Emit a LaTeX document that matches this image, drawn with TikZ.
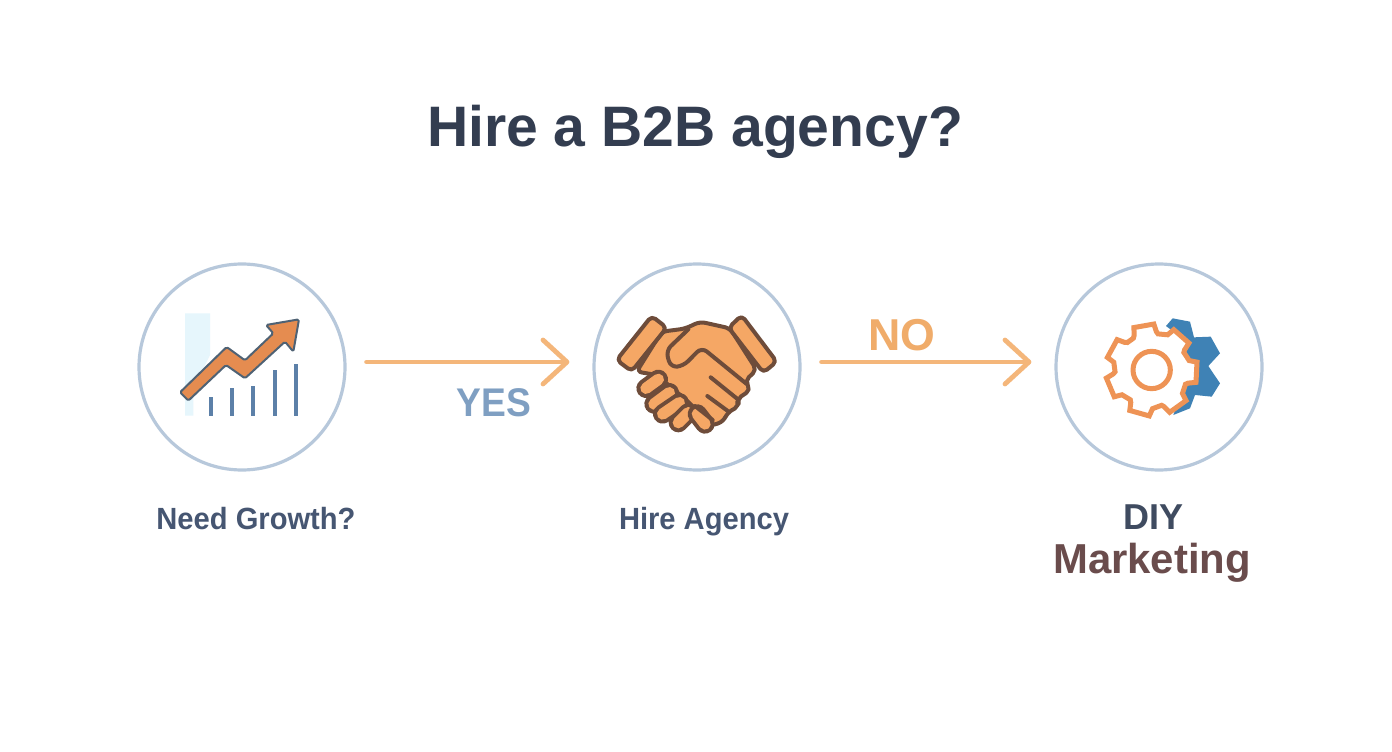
\documentclass[tikz,border=0pt]{standalone}
\usepackage{fontspec}
\usepackage{graphicx}
\setmainfont{Liberation Sans}
\usetikzlibrary{arrows.meta,calc}
\definecolor{ring}{HTML}{B7C8DB}
\definecolor{arrowor}{HTML}{F4B67A}
\definecolor{handfill}{HTML}{F5A765}
\definecolor{handline}{HTML}{6E4C3A}
\definecolor{chartor}{HTML}{E58C50}
\definecolor{chartln}{HTML}{4F6274}
\definecolor{barblue}{HTML}{5C80A8}
\definecolor{pale}{HTML}{E6F6FC}
\definecolor{gearor}{HTML}{EE9355}
\definecolor{gearbl}{HTML}{3F82B5}
\definecolor{titlecol}{HTML}{333D50}
\definecolor{labcol}{HTML}{465672}
\definecolor{yescol}{HTML}{7F9FC2}
\definecolor{nocol}{HTML}{F0AC6A}
\definecolor{diycol}{HTML}{3F4B60}
\definecolor{mktcol}{HTML}{6A4C4C}
\tikzset{
  x=0.75pt,y=-0.75pt,
  ringnode/.style={circle,draw=ring,line width=2.4pt,minimum size=154.5pt,inner sep=0pt,fill=white},
  flow/.style={draw=arrowor,line width=3.6pt,line cap=round,line join=round},
  tip/.style={-{Straight Barb[length=18pt,width=33pt,round]}},
  title/.style={font=\fontsize{42.8}{50}\selectfont\bfseries,text=titlecol,inner sep=0pt,anchor=base},
  lab/.style={font=\fontsize{23}{26}\selectfont\bfseries,text=labcol,inner sep=0pt,anchor=base},
  edgelab/.style={font=\fontsize{30}{34}\selectfont\bfseries,inner sep=0pt,anchor=base},
  hand/.style={draw=handline,fill=handfill,line width=3pt,line join=round,line cap=round},
  finger/.style={draw=handline,double=handfill,line width=3pt,double distance=8.5pt,line cap=round},
  crease/.style={draw=handline,line width=3pt,line cap=round},
  bar/.style={draw=barblue,line width=2.8pt},
}
\begin{document}
\begin{tikzpicture}
\useasboundingbox (0,0) rectangle (1392,752);
\fill[white] (0,0) rectangle (1392,752);

\node[title] (ttl) at (695,147) {Hire a B2B agency?};

\node[ringnode] (growth) at (242,367) {};
\node[ringnode] (agency) at (697,367) {};
\node[ringnode] (diy) at (1159,367) {};

% connectors
\draw[flow,tip] ([shift={(20,-5)}]growth.east) -- ([shift={(-23,-5)}]agency.west);
\draw[flow,tip] ([shift={(20,-5)}]agency.east) -- ([shift={(-23,-5)}]diy.west);

\node[edgelab,text=yescol] (yes) at (494,416) {\scalebox{.93}[1]{YES}};
\node[edgelab,text=nocol,font=\fontsize{33.5}{36}\selectfont\bfseries] (no) at (902,350) {NO};

\node[lab] (l1) at (256,529) {\scalebox{.95}[1]{Need Growth?}};
\node[lab] (l2) at (704,529) {\scalebox{.95}[1]{Hire Agency}};
\node[lab,text=diycol,font=\fontsize{27}{30}\selectfont\bfseries] (l3a) at (1153,529) {DIY};
\node[lab,text=mktcol,font=\fontsize{31.4}{34}\selectfont\bfseries] (l3b) at (1152,573) {Marketing};

% chart icon
\begin{scope}[shift={(130,255)},x=0.25pt,y=-0.25pt]
\fill[pale] (165,175) -- (240,175) -- (240,300) -- (190,400) -- (190,482) -- (165,482) -- cycle;
\foreach \bx/\by in {244/425,306/400,370/393,434/345,497/328}
  \draw[bar] (\bx,482) -- (\bx,\by);
\draw[fill=chartor,draw=chartln,line width=1.5pt,line join=round,rounded corners=1.2pt]
  (150,412) -- (290,276) -- (345,316) -- (430,235) -- (408,210) -- (507,193) -- (490,290) -- (465,260) -- (345,370) -- (288,330) -- (175,437) -- cycle;
\end{scope}

% handshake icon
\begin{scope}[shift={(590,290)},x=0.25pt,y=-0.25pt]
\draw[hand,rounded corners=4pt] (140,245) -- (215,125) -- (285,116) -- (330,95) -- (420,115) -- (500,240) -- (465,272) -- (482,300) -- (440,328) -- (448,348) -- (412,368) -- (400,395) -- (360,408) -- (300,340) -- (200,255) -- cycle;
\draw[finger] (205,268) -- (168,295);
\draw[finger] (238,308) -- (192,342);
\draw[finger] (268,338) -- (218,372);
\draw[finger] (295,368) -- (265,398);
\draw[finger] (322,372) -- (345,402);
\draw[hand,rounded corners=3.5pt] (185,78) -- (230,113) -- (125,244) -- (80,210) -- cycle;
\draw[hand,rounded corners=3.5pt] (455,76) -- (416,113) -- (520,248) -- (560,215) -- cycle;
\draw[hand,rounded corners=5pt] (295,118) -- (228,182) -- (242,232) -- (280,228) -- (335,172) -- (470,282);
\draw[crease] (362,262) -- (440,325);
\draw[crease] (352,318) -- (412,362);
\draw[crease] (315,348) -- (368,390);
\end{scope}

% gear icon
\begin{scope}[shift={(1080,300)},x=0.25pt,y=-0.25pt]
\fill[gearbl] (258,78) -- (278,55) -- (330,65) -- (342,112) -- (392,110) -- (420,160) -- (385,198) -- (420,250) -- (395,290) -- (345,285) -- (330,325) -- (280,345) -- (300,290) -- (340,210) -- (300,110) -- cycle;
\begin{scope}[shift={(215,210)}]
\draw[draw=gearor,fill=white,line width=3.75pt,line join=miter]
  (-120:110)
  \foreach \a in {0,...,6}{
    -- ({-100+\a*51.43-17}:116) -- ({-100+\a*51.43-12.7}:138) -- ({-100+\a*51.43+12.7}:138) -- ({-100+\a*51.43+17}:116)
    -- ({-100+\a*51.43+20}:110)
  } -- cycle;
\draw[draw=gearor,line width=3.75pt] (0,0) circle (56);
\end{scope}
\end{scope}
\end{tikzpicture}
\end{document}
